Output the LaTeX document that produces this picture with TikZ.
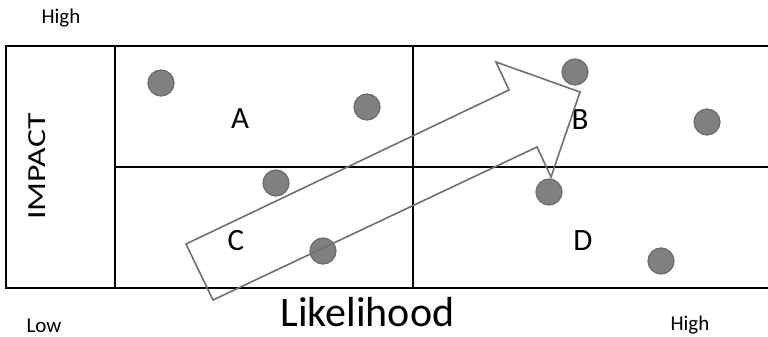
\documentclass[tikz,border=0pt]{standalone}
\usepackage{fontspec}
\setmainfont{Carlito}
\usetikzlibrary{positioning}
\definecolor{dotgrey}{RGB}{128,128,130}
\definecolor{dotedge}{RGB}{108,108,110}
\definecolor{arrowgrey}{RGB}{112,112,112}

\begin{document}
\begin{tikzpicture}[x=1pt, y=-1pt,
    grid/.style={draw=black, line width=1.4pt},
    dot/.style={circle, fill=dotgrey, draw=dotedge, line width=1.2pt,
                minimum size=26pt, inner sep=0pt},
    quad/.style={font=\fontsize{31}{31}\selectfont, inner sep=0pt},
    level/.style={font=\fontsize{21}{21}\selectfont, inner sep=0pt, anchor=base}]
\useasboundingbox (0,0) rectangle (768,337);
% matrix lines (open on the right)
\draw[grid] (768,46) -- (6,46) -- (6,288) -- (768,288);
\draw[grid] (115,46) -- (115,288);
\draw[grid] (413,46) -- (413,288);
\draw[grid] (115,167) -- (768,167);
% quadrant letters
\node[quad] (qa) at (240,118.3) {A};
\node[quad] (qb) at (580,120) {B};
\node[quad] (qc) at (236,241) {C};
\node[quad] (qd) at (583,241) {D};
% risks
\node[dot] (r1) at (161,83) {};
\node[dot] (r2) at (367,107) {};
\node[dot] (r3) at (276,183) {};
\node[dot] (r4) at (323,251) {};
\node[dot] (r5) at (575,72) {};
\node[dot] (r6) at (707,122) {};
\node[dot] (r7) at (549,192) {};
\node[dot] (r8) at (661,261) {};
% trend arrow (outline only)
\draw[arrowgrey, line width=1.6pt, line join=miter]
  (186,244) -- (509,90) -- (496,62) -- (580,92) -- (551,177) -- (537,147) -- (213,300) -- cycle;
% axis texts
\node[rotate=90, font=\fontsize{26}{26}\selectfont, inner sep=0pt] (impact) at (37,166.5) {\scalebox{1.3}[1]{IMPACT}};
\node[font=\fontsize{42}{42}\selectfont, inner sep=0pt, anchor=base] (likely) at (367.5,326.7) {Likelihood};
\node[level] (hightop) at (61,23.3) {High};
\node[level] (low) at (44,332) {Low};
\node[level] (highright) at (690,330) {High};
\end{tikzpicture}
\end{document}
